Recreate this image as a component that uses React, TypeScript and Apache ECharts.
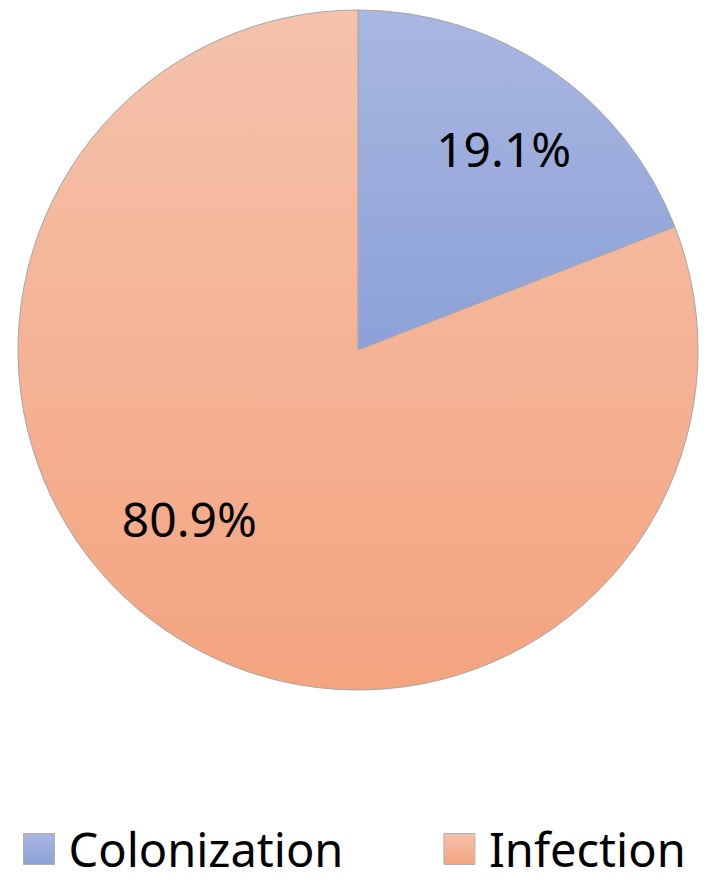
import React, { useEffect, useRef } from "react";
import * as echarts from "echarts";

const categories = ["Colonization", "Infection"];
const values = [19.1, 80.9];
const labelTexts = ["19.1%", "80.9%"];

const gradients = [
  ["#a9b7e1", "#8ca1d8"],
  ["#f5c2ac", "#f4a47f"],
];
const labelShift = [
  { dx: 48, dy: -59 },
  { dx: -71, dy: 26 },
];

export default function App() {
  const ref = useRef<HTMLDivElement>(null);
  useEffect(() => {
    document.body.style.margin = "0";
    const chart = echarts.init(ref.current!, null, { renderer: "svg" });
    chart.setOption({
      animation: false,
      backgroundColor: "#ffffff",
      legend: {
        data: categories,
        left: 18,
        top: 819,
        icon: "rect",
        itemWidth: 31,
        itemHeight: 31,
        itemGap: 100,
        itemStyle: { borderColor: "#b0b0b0", borderWidth: 1 },
        textStyle: {
          fontFamily: "Noto Sans",
          fontSize: 47,
          lineHeight: 50,
          color: "#000",
          padding: [0, 0, 0, 9],
        },
      },
      series: [
        {
          type: "pie",
          center: [358, 350],
          radius: [0, 340],
          startAngle: 90,
          clockwise: true,
          data: categories.map((c, i) => ({
            name: c,
            value: values[i],
            itemStyle: {
              color: new echarts.graphic.LinearGradient(0, 0, 0, 1, [
                { offset: 0, color: gradients[i][0] },
                { offset: 1, color: gradients[i][1] },
              ]),
            },
          })),
          itemStyle: { borderColor: "#a6a6a6", borderWidth: 1 },
          label: {
            show: true,
            position: "inside",
            formatter: (p: any) => labelTexts[p.dataIndex],
            fontFamily: "Noto Sans",
            fontSize: 48,
            color: "#000",
          },
          labelLayout: (p: any) => labelShift[p.dataIndex],
          emphasis: { disabled: true },
        },
      ],
    });
    return () => chart.dispose();
  }, []);
  return <div ref={ref} style={{ width: 709, height: 883 }} />;
}
